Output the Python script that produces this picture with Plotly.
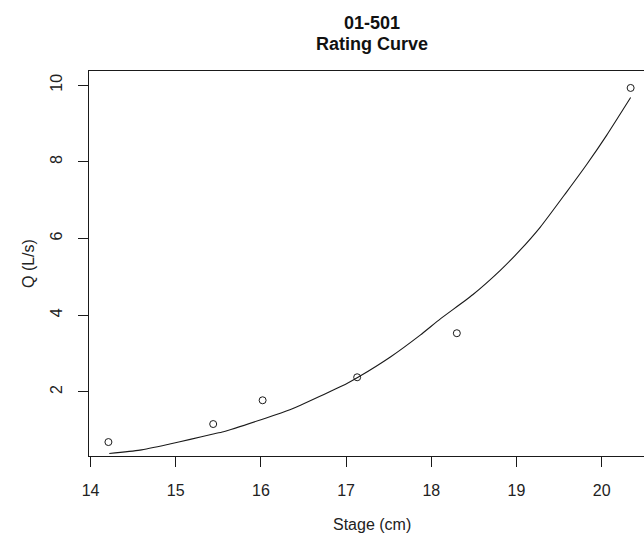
import plotly.graph_objects as go

# Measured discharge at each stage reading
stage_cm = [14.21, 15.44, 16.02, 17.13, 18.30, 20.34]
discharge_ls = [0.69, 1.16, 1.78, 2.38, 3.53, 9.93]

# Fitted rating curve, sampled along the stage range
curve_stage = [14.22, 14.58, 14.93, 15.17, 15.44, 15.56, 16.01, 16.34, 17.01,
               17.14, 17.52, 17.87, 18.11, 18.49, 18.81, 19.04, 19.28, 19.59,
               19.82, 20.06, 20.34]
curve_q = [0.39, 0.48, 0.64, 0.76, 0.90, 0.96, 1.28, 1.53, 2.22,
           2.38, 2.91, 3.48, 3.91, 4.54, 5.17, 5.69, 6.30, 7.22,
           7.92, 8.70, 9.68]

x_ticks = [14, 15, 16, 17, 18, 19, 20]
y_ticks = [2, 4, 6, 8, 10]

title_lines = ["01-501", "Rating Curve"]
x_label = "Stage (cm)"
y_label = "Q (L/s)"

FONT = "Liberation Sans, Arial, sans-serif"
TEXT = "#222222"
LINE = "#1a1a1a"

FIG_W, FIG_H = 644, 538
M_L, M_R, M_T, M_B = 89, 0, 71, 82
PLOT_W = FIG_W - M_L - M_R
PLOT_H = FIG_H - M_T - M_B


def px_x(px):
    """Horizontal pixel position -> paper coordinate."""
    return (px - M_L) / PLOT_W


def px_y(py):
    """Vertical pixel position (from top) -> paper coordinate."""
    return (FIG_H - M_B - py) / PLOT_H


fig = go.Figure()

fig.add_trace(go.Scatter(
    x=curve_stage, y=curve_q, mode="lines",
    line=dict(color=LINE, width=1.1, shape="spline", smoothing=0.6),
    hoverinfo="skip", showlegend=False,
))

fig.add_trace(go.Scatter(
    x=stage_cm, y=discharge_ls, mode="markers",
    marker=dict(symbol="circle-open", size=7, color=LINE, line=dict(width=1)),
    showlegend=False,
))

axis_common = dict(
    showgrid=False, zeroline=False,
    showline=True, linecolor=LINE, linewidth=1,
    ticks="outside", ticklen=10, tickwidth=1, tickcolor=LINE,
    tickfont=dict(family=FONT, size=16, color=TEXT),
    ticklabelstandoff=10,
)

fig.update_xaxes(range=[13.982, 20.497], tickvals=x_ticks, mirror=True, **axis_common)
fig.update_yaxes(range=[0.326, 10.372], tickvals=y_ticks, tickangle=-90, **axis_common)

# Axis labels
fig.add_annotation(
    text=x_label, xref="paper", yref="paper",
    x=px_x(372), y=px_y(524), xanchor="center", yanchor="middle",
    showarrow=False, font=dict(family=FONT, size=16, color=TEXT),
)
fig.add_annotation(
    text=y_label, xref="paper", yref="paper", textangle=-90,
    x=px_x(28), y=px_y(264), xanchor="center", yanchor="middle",
    showarrow=False, font=dict(family=FONT, size=16, color=TEXT),
)

# Two-line bold heading above the plotting area
for i, line in enumerate(title_lines):
    fig.add_annotation(
        text=f"<b>{line}</b>", xref="paper", yref="paper",
        x=px_x(372), y=px_y(23 + 21 * i),
        xanchor="center", yanchor="middle",
        showarrow=False, font=dict(family=FONT, size=18, color="#111111"),
    )

fig.update_layout(
    width=FIG_W, height=FIG_H,
    margin=dict(l=M_L, r=M_R, t=M_T, b=M_B),
    paper_bgcolor="white", plot_bgcolor="white",
)

fig.write_html("out.html")
